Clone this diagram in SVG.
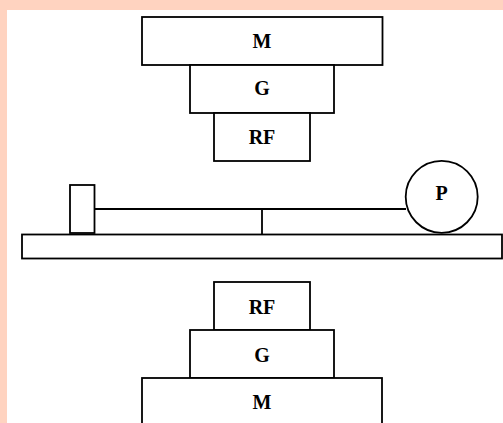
<svg xmlns="http://www.w3.org/2000/svg" width="503" height="423" viewBox="0 0 503 423">
<style>
.s{fill:#fff;stroke:#000;stroke-width:1.8}
.c{fill:none;stroke:#000;stroke-width:1.8}
text{font-family:"Liberation Serif","Times New Roman",serif;font-size:20px;font-weight:bold;fill:#000;text-anchor:middle}
</style>
<rect width="503" height="423" fill="#ffd3c0"/>
<rect x="7" y="10" width="496" height="413" fill="#fff"/>
<g id="top-m"><rect class="s" x="142" y="17" width="240.500" height="48"/><text x="262" y="47.500">M</text></g>
<g id="top-g"><rect class="s" x="190" y="65" width="144" height="48"/><text x="262" y="95">G</text></g>
<g id="top-rf"><rect class="s" x="214" y="113" width="96" height="48"/><text x="262" y="143.500">RF</text></g>
<g id="base"><rect class="s" x="22" y="234.500" width="480" height="24"/></g>
<g id="block"><rect class="s" x="70" y="185" width="24.500" height="48"/></g>
<g id="p"><circle class="s" cx="441.700" cy="196.800" r="36"/><text x="441.700" y="200">P</text></g>
<g id="connectors"><path class="c" d="M94.500 209H406M262 209V234.500"/></g>
<g id="bottom-rf"><rect class="s" x="214" y="282" width="96" height="48"/><text x="262" y="313.500">RF</text></g>
<g id="bottom-g"><rect class="s" x="190" y="330" width="144" height="48"/><text x="262" y="362">G</text></g>
<g id="bottom-m"><rect class="s" x="142" y="378" width="240" height="48"/><text x="262" y="409">M</text></g>
</svg>
